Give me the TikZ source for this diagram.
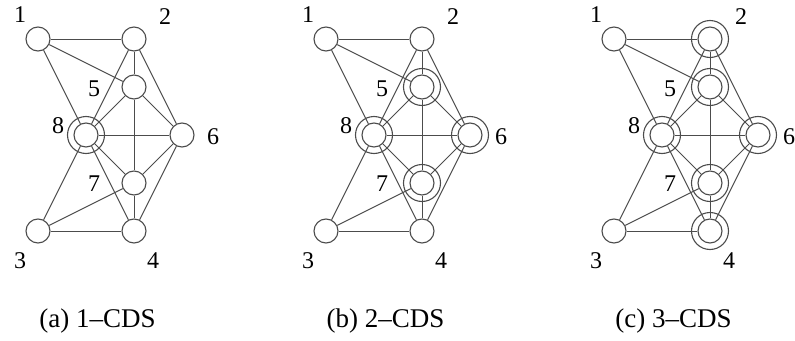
\documentclass[tikz,border=0pt]{standalone}
\usepackage{fontspec}
\setmainfont{Liberation Serif}
\usetikzlibrary{positioning}

\begin{document}
\begin{tikzpicture}[
    x=48pt, y=-48pt,
    vertex/.style={draw=black!70, circle, minimum size=24pt, inner sep=0pt, line width=1.1pt, fill=white},
    ring/.style={draw=black!70, line width=1.1pt},
    edge/.style={draw=black!70, line width=1pt},
    num/.style={font=\fontsize{24}{28}\selectfont, inner sep=0pt},
    caption/.style={font=\fontsize{27}{32}\selectfont, inner sep=0pt}
  ]
    \useasboundingbox (-0.7917,-0.8125) rectangle (15.771,6.271);

    \foreach \p/\dx/\sel/\k in {a/0/{8}/1, b/6/{5,8,6,7}/2, c/12/{2,5,8,6,7,4}/3} {
      \begin{scope}[xshift=\dx*48pt]
        % Vertices
        \foreach \n/\pos in {1/{0,0}, 2/{2,0}, 5/{2,1}, 8/{1,2}, 6/{3,2}, 7/{2,3}, 3/{0,4}, 4/{2,4}}
          \node[vertex] (\p\n) at (\pos) {};

        % Edges
        \foreach \u/\v in {1/2, 1/5, 1/8, 2/5, 2/8, 2/6, 5/8, 5/6, 5/7, 8/6, 8/7, 8/4, 8/3, 6/7, 6/4, 7/3, 7/4, 3/4}
          \draw[edge] (\p\u) -- (\p\v);

        % Dominating set members
        \foreach \d in \sel
          \draw[ring] (\p\d) circle (18.5pt);

        % Vertex numbers
        \foreach \n/\pos in {1/{-0.37,-0.51}, 2/{2.65,-0.46}, 5/{1.17,1.04}, 8/{0.42,1.81}, 6/{3.65,2.04}, 7/{1.17,3.02}, 3/{-0.37,4.62}, 4/{2.4,4.62}}
          \node[num] (lab\p\n) at (\pos) {\n};

        % Caption
        \node[caption] (cap\p) at (1.24,5.875) {(\p) \k--CDS};
      \end{scope}
    }
\end{tikzpicture}
\end{document}
